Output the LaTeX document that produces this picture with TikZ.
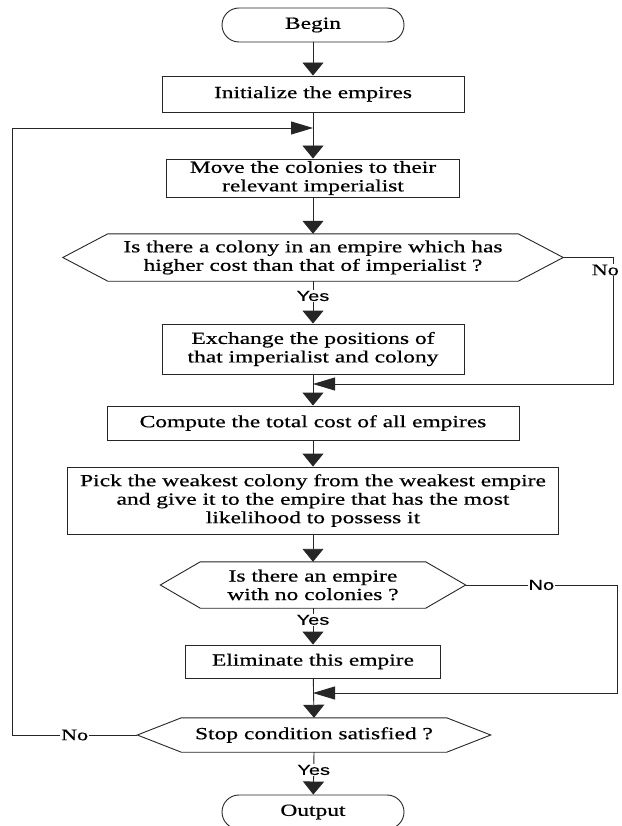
\documentclass[tikz,border=0pt]{standalone}
\usepackage{fontspec}
\setmainfont{Liberation Serif}[FakeStretch=1.38,FakeBold=0.6]
\setsansfont{Liberation Sans}[FakeStretch=1.38,FakeBold=0.3]
\usetikzlibrary{arrows.meta}
\begin{document}
\begin{tikzpicture}[x=1pt,y=-1pt,
  ln/.style={line width=0.9pt, draw=black!85},
  box/.style={ln, rectangle, inner sep=0pt, align=center, font=\fontsize{17}{18.5}\selectfont},
  hexnode/.style={rectangle, inner sep=0pt, align=center, font=\fontsize{17}{18.5}\selectfont},
  term/.style={box, rounded corners=17pt},
  varr/.style={ln, -{Triangle[length=13pt,width=21pt]}},
  harr/.style={ln, -{Triangle[length=22pt,width=13pt]}},
  lbls/.style={fill=white, inner sep=1pt, font=\sffamily\fontsize{14.5}{16}\selectfont},
  lblr/.style={fill=white, inner sep=1pt, font=\fontsize{16}{18}\selectfont}]
\useasboundingbox (0,0) rectangle (621,826);
\clip (0,0) rectangle (621,826);
\fill[white] (0,0) rectangle (621,826);

\node[term, minimum width=182pt, minimum height=34pt] (begin) at (313,25) {Begin};
\node[box, minimum width=302pt, minimum height=36pt] (init) at (313,94) {Initialize the empires};
\node[box, minimum width=293pt, minimum height=38pt] (move) at (313,178) {Move the colonies to their\\relevant imperialist};
\node[hexnode, minimum width=500pt, minimum height=47pt] (h1) at (313,257.5) {Is there a colony in an empire which has\\higher cost than that of imperialist ?};
\node[box, minimum width=302pt, minimum height=50pt] (exch) at (313,349) {Exchange the positions of\\that imperialist and colony};
\node[box, minimum width=412pt, minimum height=34pt] (comp) at (313,423) {Compute the total cost of all empires};
\node[box, minimum width=491pt, minimum height=67pt] (pick) at (313,500.5) {Pick the weakest colony from the weakest empire\\and give it to the empire that has the most\\likelihood to possess it};
\node[hexnode, minimum width=305pt, minimum height=46pt] (h2) at (313,585) {Is there an empire\\with no colonies ?};
\node[box, minimum width=255pt, minimum height=33pt] (elim) at (313,661.5) {Eliminate this empire};
\node[hexnode, minimum width=353pt, minimum height=34pt] (stop) at (314,735) {Stop condition satisfied ?};
\node[term, minimum width=182pt, minimum height=34pt] (out) at (313,812) {Output};

\draw[ln] (h1.west) -- ([xshift=45pt]h1.north west) -- ([xshift=-45pt]h1.north east) -- (h1.east) -- ([xshift=-45pt]h1.south east) -- ([xshift=45pt]h1.south west) -- cycle;
\draw[ln] (h2.west) -- ([xshift=40pt]h2.north west) -- ([xshift=-40pt]h2.north east) -- (h2.east) -- ([xshift=-40pt]h2.south east) -- ([xshift=40pt]h2.south west) -- cycle;
\draw[ln] (stop.west) -- ([xshift=44pt]stop.north west) -- ([xshift=-44pt]stop.north east) -- (stop.east) -- ([xshift=-44pt]stop.south east) -- ([xshift=44pt]stop.south west) -- cycle;

\coordinate (r1a) at (613,257.5);
\coordinate (r1b) at (613,384);
\coordinate (r1c) at (313,384);
\coordinate (r2a) at (617,585);
\coordinate (r2b) at (617,693);
\coordinate (r2c) at (313,693);
\coordinate (fb1) at (12,735);
\coordinate (fb2) at (12,128);
\coordinate (fb3) at (313,128);

\draw[varr] (begin) -- (init);
\draw[varr] (init) -- (move);
\draw[varr] (move) -- (h1.north);
\draw[varr] (h1.south) -- node[lbls,pos=0.35]{Yes} (exch);
\draw[varr] (exch) -- (comp);
\draw[harr] (h1.east) -- (r1a) -- (r1b) -- (r1c);
\node[lblr, anchor=east] (no1) at (620,270) {No};
\draw[varr] (comp) -- (pick);
\draw[varr] (pick) -- (h2.north);
\draw[varr] (h2.south) -- node[lbls,pos=0.32]{Yes} (elim);
\draw[harr] (h2.east) -- node[lbls,midway]{No} (r2a) -- (r2b) -- (r2c);
\draw[varr] (elim) -- (stop.north);
\draw[varr] (stop.south) -- node[lbls,pos=0.42]{Yes} (out);
\draw[harr] (stop.west) -- node[lblr,midway]{No} (fb1) -- (fb2) -- (fb3);
\end{tikzpicture}
\end{document}
